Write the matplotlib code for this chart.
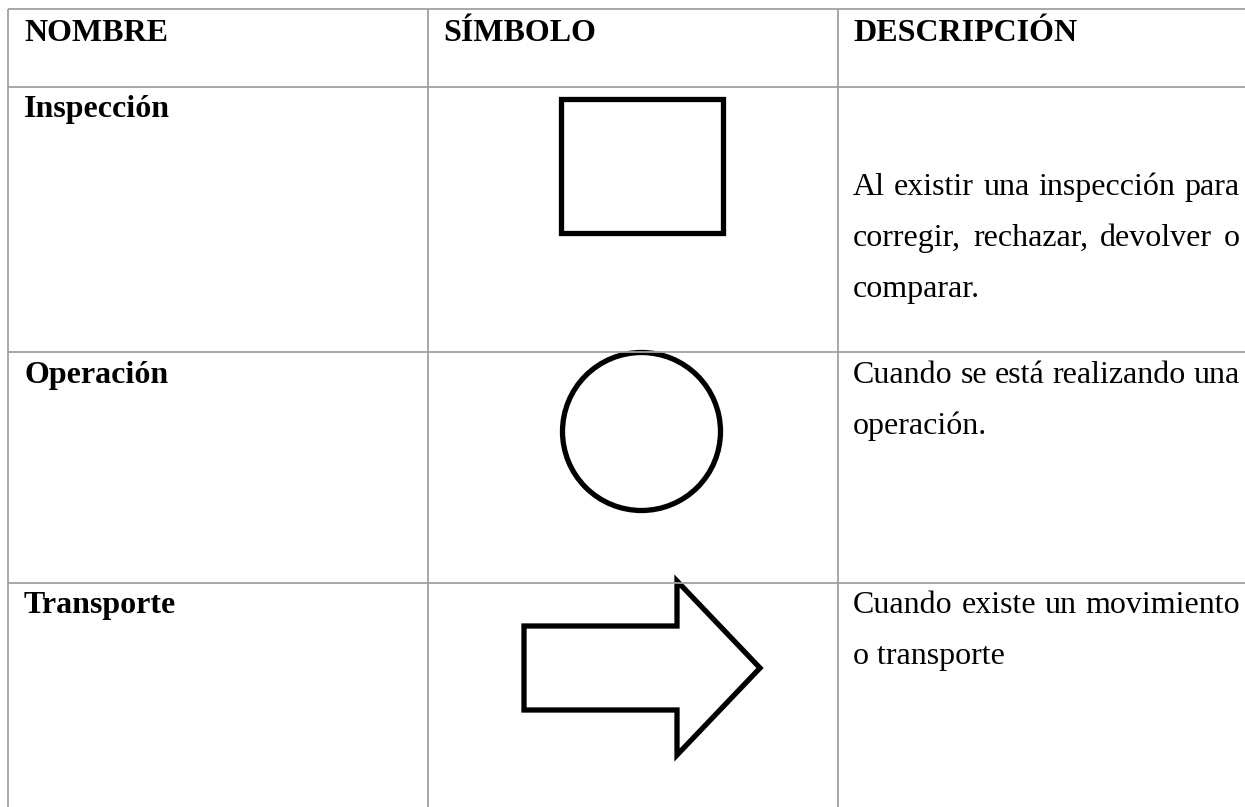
import matplotlib
matplotlib.use("Agg")
import matplotlib.pyplot as plt
from matplotlib.patches import Rectangle, Circle, Polygon

W, H = 1245, 807

headers = ["NOMBRE", "SÍMBOLO", "DESCRIPCIÓN"]
names = ["Inspección", "Operación", "Transporte"]
descriptions = [
    ["Al existir una inspección para", "corregir, rechazar, devolver o", "comparar."],
    ["Cuando se está realizando una", "operación."],
    ["Cuando existe un movimiento", "o transporte"],
]
justified = [[True, True, False], [True, False], [True, False]]

# layout (pixel coordinates)
col_x = [8, 428, 838]
row_y = [9, 87, 352, 583]
text_pad = 16
right_edge = 1240
fs = 23
font = "Liberation Serif"
grid_color = "#a0a0a0"

fig = plt.figure(figsize=(W / 100, H / 100), dpi=100)
ax = fig.add_axes([0, 0, 1, 1])
ax.set_xlim(0, W)
ax.set_ylim(H, 0)
ax.axis("off")

# grid lines
for y in row_y:
    ax.plot([col_x[0], W], [y, y], color=grid_color, lw=1.3, solid_capstyle="butt")
for x in col_x:
    ax.plot([x, x], [row_y[0], H], color=grid_color, lw=1.3, solid_capstyle="butt")

# headers
header_base = row_y[0] + 32
header_x = [24, 443, 853]
for hx, h in zip(header_x, headers):
    ax.text(hx, header_base, h, fontsize=fs, fontweight="bold", family=font, va="baseline", ha="left")

# names
name_base = [117, 383, 613]
for b, n in zip(name_base, names):
    ax.text(24, b, n, fontsize=fs, fontweight="bold", family=font, va="baseline", ha="left")

# descriptions (with justification)
desc_base = [195, 383, 613]
line_h = 51
renderer = fig.canvas.get_renderer()
for b, lines, just in zip(desc_base, descriptions, justified):
    for i, (line, j) in enumerate(zip(lines, just)):
        y = b + i * line_h
        x0 = 853
        if not j:
            ax.text(x0, y, line, fontsize=fs, family=font, va="baseline", ha="left")
            continue
        words = line.split(" ")
        widths = []
        for w in words:
            t = ax.text(0, 0, w, fontsize=fs, family=font)
            widths.append(t.get_window_extent(renderer).width)
            t.remove()
        gap = (right_edge - x0 - sum(widths)) / (len(words) - 1)
        x = x0
        for w, wd in zip(words, widths):
            ax.text(x, y, w, fontsize=fs, family=font, va="baseline", ha="left")
            x += wd + gap

# symbols
lw_sym = 3.8
ax.add_patch(Rectangle((560.5, 98.5), 162, 134, fill=False, ec="black", lw=lw_sym, joinstyle="miter"))
ax.add_patch(Circle((641.5, 431.5), 79, fill=False, ec="black", lw=lw_sym))
arrow = [(524, 626), (677, 626), (677, 581), (760, 668), (677, 755), (677, 710), (524, 710)]
ax.add_patch(Polygon(arrow, closed=True, fill=False, ec="black", lw=lw_sym, joinstyle="miter"))

fig.savefig("out.png", dpi=100, facecolor="white")
